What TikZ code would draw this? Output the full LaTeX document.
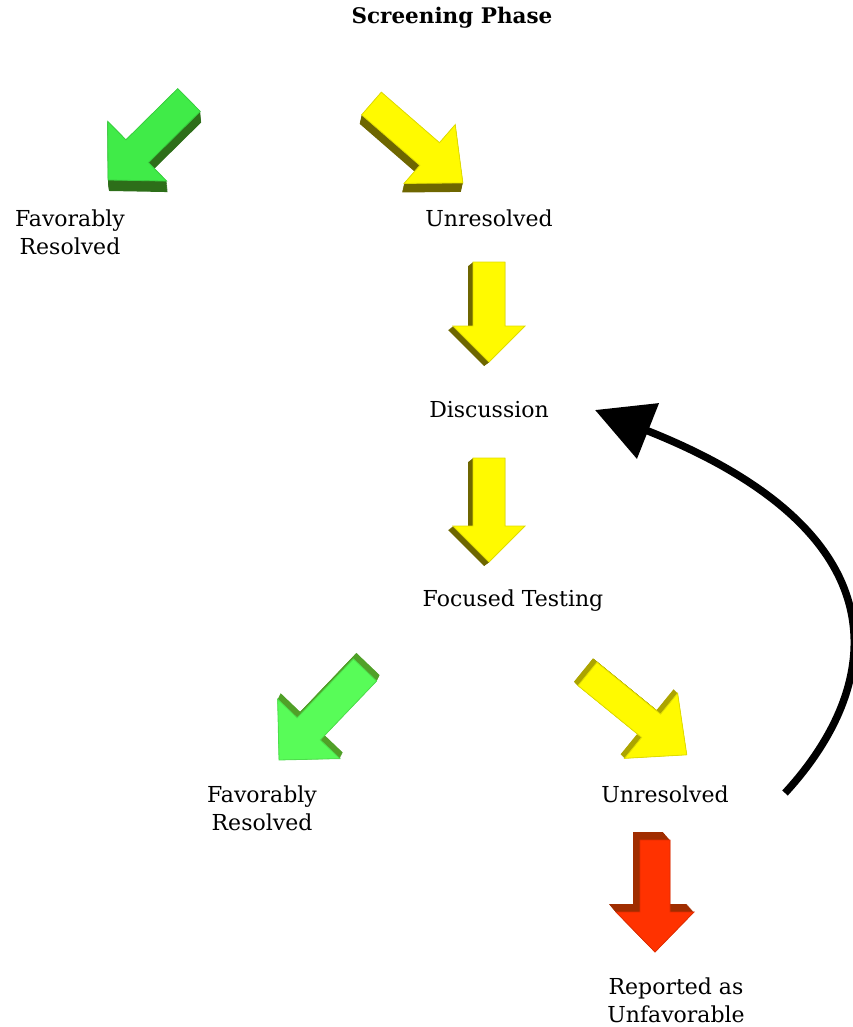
\documentclass[tikz,border=0pt]{standalone}
\usepackage{fontspec}
\setmainfont{DejaVu Serif}
\usetikzlibrary{arrows.meta}
\definecolor{gAface}{RGB}{64,235,72}
\definecolor{gAdark}{RGB}{45,110,25}
\definecolor{gBface}{RGB}{88,252,88}
\definecolor{gBdark}{RGB}{80,160,40}
\definecolor{yface}{RGB}{255,250,0}
\definecolor{ydark}{RGB}{110,102,0}
\definecolor{yBdark}{RGB}{172,164,0}
\definecolor{rface}{RGB}{255,50,0}
\definecolor{rdark}{RGB}{160,45,0}
% #1 tailx #2 taily #3 tipx #4 tipy #5 face #6 dark #7 dx #8 dy ; \sw \hw \hl set before
\newcommand{\fatarrow}[8]{%
  \pgfmathsetmacro\fa{atan2((#2)-(#4),(#3)-(#1))}%
  \pgfmathsetmacro\fl{veclen((#3)-(#1),(#4)-(#2))}%
  \pgfmathsetmacro\fb{\fl-\hl}%
  \foreach \k in {0,1,...,16}{%
    \fill[#6,shift={({(#1)+(#7)*\k/16},{(#2)+(#8)*\k/16})},rotate=\fa]
      (0,-\sw) -- (\fb,-\sw) -- (\fb,-\hw) -- (\fl,0) -- (\fb,\hw) -- (\fb,\sw) -- (0,\sw) -- cycle;}%
  \filldraw[fill=#5,draw=#5!88!black,line width=0.8,shift={(#1,#2)},rotate=\fa]
      (0,-\sw) -- (\fb,-\sw) -- (\fb,-\hw) -- (\fl,0) -- (\fb,\hw) -- (\fb,\sw) -- (0,\sw) -- cycle;%
}
\tikzset{
  lbl/.style={inner sep=0pt, align=center, font=\fontsize{22}{28}\selectfont},
  ttl/.style={inner sep=0pt, font=\fontsize{21.5}{24}\selectfont\bfseries},
  loop/.style={line width=7.5pt, -{Triangle[length=57pt,width=58pt]}}
}
\begin{document}
\begin{tikzpicture}[x=1pt,y=-1pt]
\useasboundingbox (0,0) rectangle (852,1027);
% title and labels
\node[ttl] (title) at (452,18) {Screening Phase};
\node[lbl] (fav1) at (70,232) {Favorably\\Resolved};
\node[lbl] (unr1) at (489,218) {Unresolved};
\node[lbl] (disc) at (489,410) {Discussion};
\node[lbl] (foc) at (513,601) {Focused Testing};
\node[lbl] (fav2) at (262,808) {Favorably\\Resolved};
\node[lbl] (unr2) at (665,794) {Unresolved};
\node[lbl] (rep) at (676,1000) {Reported as\\Unfavorable};
% 3D arrows
\def\sw{16}\def\hw{42}\def\hl{41}
\fatarrow{189}{100}{108}{180}{gAface}{gAdark}{1}{11}
\def\sw{15}\def\hw{39}\def\hl{44}
\fatarrow{371.5}{103.5}{463}{183}{yface}{ydark}{-2}{9}
\def\sw{16}\def\hw{36}\def\hl{36}
\fatarrow{489}{262}{489}{362}{yface}{ydark}{-5}{4}
\fatarrow{489}{458}{489}{562}{yface}{ydark}{-5}{4}
\def\sw{16}\def\hw{43}\def\hl{43}
\fatarrow{365}{670}{279}{760}{gBface}{gBdark}{3}{-6}
\def\sw{15}\def\hw{42}\def\hl{46}
\fatarrow{587.5}{674}{687}{755}{yface}{yBdark}{-4}{-4}
\def\sw{15}\def\hw{39}\def\hl{40}
\fatarrow{655}{840}{655}{952}{rface}{rdark}{-7}{-8}
% loop back connector
\coordinate (ls) at (785,793);
\coordinate (le) at (595,410);
\draw[loop] (ls) .. controls (880,690) and (913,536) .. (le);
\end{tikzpicture}
\end{document}
